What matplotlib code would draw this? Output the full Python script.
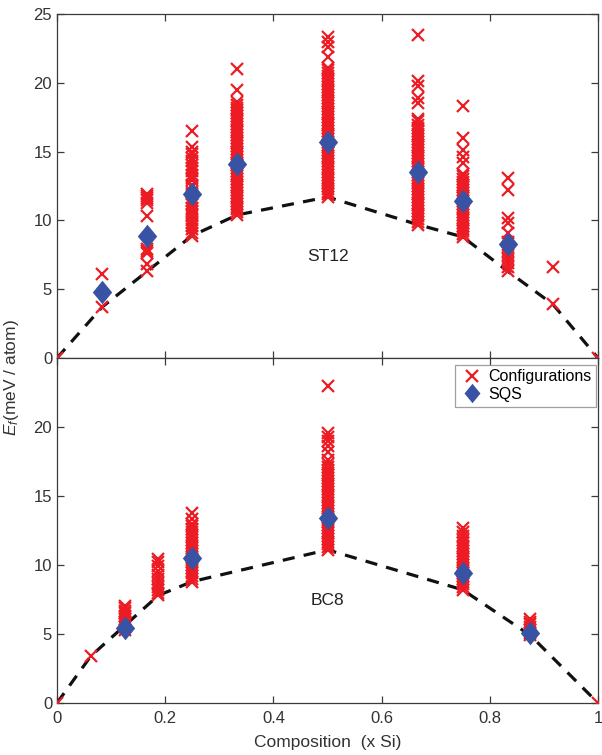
import matplotlib
matplotlib.use("Agg")
import matplotlib.pyplot as plt
from matplotlib.path import Path

plt.rcParams['font.family'] = ['Liberation Sans', 'DejaVu Sans']
plt.rcParams['mathtext.fontset'] = 'custom'
plt.rcParams['mathtext.it'] = 'Liberation Sans:italic'
plt.rcParams['mathtext.rm'] = 'Liberation Sans'

# ---------------- ST12 data ----------------
st12_x = [0.0, 1/12, 2/12, 3/12, 4/12, 6/12, 8/12, 9/12, 10/12, 11/12, 1.0]
st12_configs = [
    [0.0],
    [3.7, 6.1],
    [6.3, 6.8, 7.6, 7.8, 7.9, 10.3, 11.3, 11.5, 11.6, 11.8, 11.9],
    [8.9, 9.1, 9.4, 9.6, 9.8, 10.0, 10.3, 10.5, 10.7, 10.9, 11.2, 11.4, 11.6,
     11.9, 12.1, 12.4, 12.6, 12.9, 13.1, 13.3, 13.6, 13.8, 14.0, 14.3, 14.5,
     14.8, 15.0, 15.3, 16.5],
    [10.4, 10.6, 10.8, 11.0, 11.2, 11.4, 11.6, 11.8, 12.0, 12.2, 12.4, 12.6,
     12.8, 13.0, 13.2, 13.4, 13.6, 13.8, 14.0, 14.2, 14.4, 14.6, 14.8, 15.0,
     15.2, 15.4, 15.6, 15.8, 16.0, 16.2, 16.4, 16.6, 16.8, 17.0, 17.2, 17.4,
     17.6, 17.8, 18.0, 18.2, 18.4, 18.6, 19.5, 21.0],
    [11.7, 11.9, 12.1, 12.3, 12.5, 12.7, 12.9, 13.1, 13.3, 13.5, 13.7, 13.9,
     14.1, 14.3, 14.5, 14.7, 14.9, 15.1, 15.3, 15.5, 15.7, 15.9, 16.1, 16.3,
     16.5, 16.7, 16.9, 17.1, 17.3, 17.5, 17.7, 17.9, 18.1, 18.3, 18.5, 18.7,
     18.9, 19.1, 19.3, 19.5, 19.7, 19.9, 20.1, 20.3, 20.5, 20.7, 20.9, 21.1,
     21.9, 22.6, 23.0, 23.3],
    [9.7, 9.9, 10.1, 10.3, 10.5, 10.7, 10.9, 11.1, 11.3, 11.5, 11.7, 11.9,
     12.1, 12.3, 12.5, 12.7, 12.9, 13.1, 13.3, 13.5, 13.7, 13.9, 14.1, 14.3,
     14.5, 14.7, 14.9, 15.1, 15.3, 15.5, 15.7, 15.9, 16.1, 16.3, 16.5, 16.7,
     16.9, 17.2, 17.4, 18.5, 18.9, 19.8, 20.1, 23.5],
    [8.8, 9.0, 9.2, 9.4, 9.6, 9.8, 10.0, 10.2, 10.4, 10.6, 10.8, 11.0, 11.2,
     11.4, 11.6, 11.8, 12.0, 12.2, 12.4, 12.6, 12.8, 13.0, 13.2, 13.4, 14.2,
     14.6, 15.1, 16.0, 18.3],
    [6.3, 6.6, 6.9, 7.2, 7.5, 7.8, 8.1, 8.4, 9.1, 9.8, 10.2, 12.2, 13.1],
    [3.9, 6.6],
    [0.0],
]
st12_sqs_x = [1/12, 2/12, 3/12, 4/12, 6/12, 8/12, 9/12, 10/12]
st12_sqs = [4.8, 8.9, 11.9, 14.1, 15.7, 13.5, 11.4, 8.3]
st12_hull = [0.0, 3.7, 6.3, 8.9, 10.4, 11.7, 9.7, 8.8, 6.3, 3.9, 0.0]

# ---------------- BC8 data ----------------
bc8_x = [0.0, 1/16, 2/16, 3/16, 4/16, 8/16, 12/16, 14/16, 1.0]
bc8_configs = [
    [0.0],
    [3.4],
    [5.3, 5.5, 5.7, 5.9, 6.1, 6.3, 6.5, 6.7, 6.9, 7.0],
    [7.8, 8.0, 8.2, 8.4, 8.7, 9.0, 9.3, 9.6, 9.9, 10.2, 10.4],
    [8.8, 9.0, 9.2, 9.4, 9.6, 9.8, 10.0, 10.2, 10.4, 10.6, 10.8, 11.0, 11.2,
     11.4, 11.6, 11.8, 12.0, 12.2, 12.4, 12.6, 12.8, 13.0, 13.3, 13.8],
    [11.1, 11.3, 11.5, 11.7, 11.9, 12.1, 12.3, 12.5, 12.7, 12.9, 13.1, 13.3,
     13.5, 13.7, 13.9, 14.1, 14.3, 14.5, 14.7, 14.9, 15.1, 15.3, 15.5, 15.7,
     15.9, 16.1, 16.3, 16.5, 16.7, 16.9, 17.1, 17.3, 17.6, 18.2, 18.6, 19.0,
     19.3, 19.6, 23.0],
    [8.2, 8.4, 8.6, 8.8, 9.0, 9.2, 9.4, 9.6, 9.8, 10.0, 10.2, 10.4, 10.6,
     10.8, 11.0, 11.2, 11.4, 11.6, 11.8, 12.1, 12.4, 12.7],
    [4.9, 5.1, 5.3, 5.5, 5.7, 5.9, 6.1],
    [0.0],
]
bc8_sqs_x = [2/16, 4/16, 8/16, 12/16, 14/16]
bc8_sqs = [5.4, 10.5, 13.4, 9.4, 5.1]
bc8_hull = [0.0, 3.4, 5.6, 7.8, 8.8, 11.1, 8.2, 4.9, 0.0]

xticks = [0, 0.2, 0.4, 0.6, 0.8, 1.0]
xticklabels = ['0', '0.2', '0.4', '0.6', '0.8', '1']

RED = '#ED1C24'
BLUE = '#3953A4'
SPINE = '#3a3a3a'

# MATLAB-style diamond (taller than wide)
DIAMOND = Path([(0, 1), (0.82, 0), (0, -1), (-0.82, 0), (0, 1)],
               [Path.MOVETO, Path.LINETO, Path.LINETO, Path.LINETO,
                Path.CLOSEPOLY])

fig = plt.figure(figsize=(6.02, 7.55), dpi=100)
L, R = 57/602, 598/602
ax_top = fig.add_axes([L, 1 - 358/755, R - L, (358 - 14)/755])
ax_bot = fig.add_axes([L, 1 - 703/755, R - L, (703 - 358)/755])


def draw(ax, xs, configs, sqs_x, sqs, hull, label):
    ax.plot(xs, hull, color='#111111', linestyle=(0, (3.8, 2.9)), lw=2.3,
            dash_capstyle='butt', zorder=2)
    first = True
    for x, vals in zip(xs, configs):
        ax.plot([x] * len(vals), vals, linestyle='none', marker='x',
                color=RED, markersize=8.5, markeredgewidth=1.6,
                label='Configurations' if first else None, zorder=3)
        first = False
    ax.plot(sqs_x, sqs, linestyle='none', marker=DIAMOND, color=BLUE,
            markersize=17, markeredgewidth=0, label='SQS', zorder=4)
    ax.text(0.5, 7.4, label, ha='center', va='center', fontsize=12.5,
            color='#222222')
    ax.set_xlim(0, 1)
    ax.set_ylim(0, 25)
    ax.set_xticks(xticks)
    for sp in ax.spines.values():
        sp.set_color(SPINE)
        sp.set_linewidth(0.9)
    ax.tick_params(direction='in', length=5, width=0.9, color=SPINE,
                   labelsize=12, labelcolor='#333333', left=True, right=True,
                   top=True, bottom=True)


draw(ax_top, st12_x, st12_configs, st12_sqs_x, st12_sqs, st12_hull, 'ST12')
draw(ax_bot, bc8_x, bc8_configs, bc8_sqs_x, bc8_sqs, bc8_hull, 'BC8')

ax_top.set_yticks([0, 5, 10, 15, 20, 25])
ax_top.tick_params(labelbottom=False)
ax_bot.set_yticks([0, 5, 10, 15, 20])
ax_bot.set_xticklabels(xticklabels)
ax_bot.tick_params(axis='x', pad=6)

leg = ax_bot.legend(loc='upper right', bbox_to_anchor=(0.997, 0.981),
                    fontsize=11.5, frameon=True, fancybox=False,
                    borderpad=0.3, handletextpad=0.2, handlelength=1.6,
                    labelspacing=0.15, borderaxespad=0.0)
leg.get_frame().set_edgecolor('#888888')
leg.get_frame().set_linewidth(0.9)
for h in leg.legend_handles:
    h.set_markersize(8.5 if h.get_marker() == 'x' else 14)

fig.text(0.5 * (L + R), 1 - 742/755, 'Composition  (x Si)', ha='center',
         va='center', fontsize=12.5, color='#333333')
fig.text(12/602, 1 - 378/755, r'$E_f$(meV / atom)', rotation=90,
         ha='center', va='center', fontsize=12.5, color='#333333')

fig.savefig('out.png', dpi=100)
